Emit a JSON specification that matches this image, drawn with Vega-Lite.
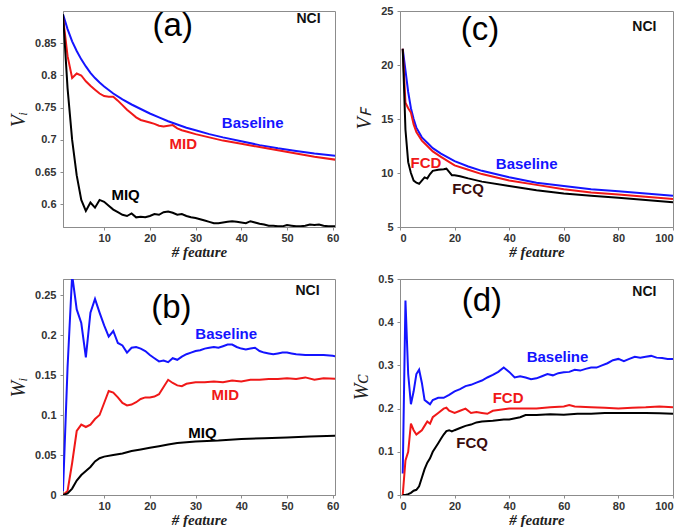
{
  "$schema": "https://vega.github.io/schema/vega-lite/v6.json",
  "background": "white",
  "padding": {"left": 8, "top": 4, "right": 2, "bottom": 2},
  "columns": 2,
  "spacing": {"row": 52, "column": 65},
  "bounds": "flush",
  "datasets": {
    "a": [
      {"feature":1,"value":0.895,"series":"Baseline"},{"feature":2,"value":0.872,"series":"Baseline"},{"feature":3,"value":0.853,"series":"Baseline"},{"feature":4,"value":0.838,"series":"Baseline"},{"feature":5,"value":0.825,"series":"Baseline"},{"feature":6,"value":0.814,"series":"Baseline"},{"feature":7,"value":0.804,"series":"Baseline"},{"feature":8,"value":0.796,"series":"Baseline"},{"feature":9,"value":0.789,"series":"Baseline"},{"feature":10,"value":0.783,"series":"Baseline"},{"feature":12,"value":0.772,"series":"Baseline"},{"feature":14,"value":0.763,"series":"Baseline"},{"feature":16,"value":0.755,"series":"Baseline"},{"feature":18,"value":0.748,"series":"Baseline"},{"feature":20,"value":0.741,"series":"Baseline"},{"feature":22,"value":0.735,"series":"Baseline"},{"feature":24,"value":0.729,"series":"Baseline"},{"feature":26,"value":0.724,"series":"Baseline"},{"feature":28,"value":0.719,"series":"Baseline"},{"feature":30,"value":0.715,"series":"Baseline"},{"feature":33,"value":0.709,"series":"Baseline"},{"feature":36,"value":0.704,"series":"Baseline"},{"feature":40,"value":0.698,"series":"Baseline"},{"feature":44,"value":0.692,"series":"Baseline"},{"feature":48,"value":0.687,"series":"Baseline"},{"feature":52,"value":0.683,"series":"Baseline"},{"feature":56,"value":0.679,"series":"Baseline"},{"feature":61,"value":0.675,"series":"Baseline"},
      {"feature":1,"value":0.89,"series":"MID"},{"feature":2,"value":0.83,"series":"MID"},{"feature":3,"value":0.796,"series":"MID"},{"feature":4,"value":0.803,"series":"MID"},{"feature":5,"value":0.8,"series":"MID"},{"feature":6,"value":0.791,"series":"MID"},{"feature":7,"value":0.784,"series":"MID"},{"feature":8,"value":0.778,"series":"MID"},{"feature":9,"value":0.772,"series":"MID"},{"feature":10,"value":0.768,"series":"MID"},{"feature":11,"value":0.767,"series":"MID"},{"feature":12,"value":0.767,"series":"MID"},{"feature":13,"value":0.761,"series":"MID"},{"feature":14,"value":0.754,"series":"MID"},{"feature":15,"value":0.747,"series":"MID"},{"feature":16,"value":0.741,"series":"MID"},{"feature":17,"value":0.735,"series":"MID"},{"feature":18,"value":0.731,"series":"MID"},{"feature":19,"value":0.729,"series":"MID"},{"feature":20,"value":0.727,"series":"MID"},{"feature":21,"value":0.725,"series":"MID"},{"feature":22,"value":0.722,"series":"MID"},{"feature":23,"value":0.721,"series":"MID"},{"feature":24,"value":0.722,"series":"MID"},{"feature":25,"value":0.723,"series":"MID"},{"feature":26,"value":0.718,"series":"MID"},{"feature":27,"value":0.715,"series":"MID"},{"feature":28,"value":0.713,"series":"MID"},{"feature":30,"value":0.709,"series":"MID"},{"feature":33,"value":0.704,"series":"MID"},{"feature":36,"value":0.699,"series":"MID"},{"feature":40,"value":0.694,"series":"MID"},{"feature":44,"value":0.689,"series":"MID"},{"feature":48,"value":0.684,"series":"MID"},{"feature":52,"value":0.679,"series":"MID"},{"feature":56,"value":0.674,"series":"MID"},{"feature":61,"value":0.669,"series":"MID"},
      {"feature":1,"value":0.895,"series":"MIQ"},{"feature":2,"value":0.78,"series":"MIQ"},{"feature":3,"value":0.7,"series":"MIQ"},{"feature":4,"value":0.645,"series":"MIQ"},{"feature":5,"value":0.607,"series":"MIQ"},{"feature":6,"value":0.59,"series":"MIQ"},{"feature":7,"value":0.603,"series":"MIQ"},{"feature":8,"value":0.595,"series":"MIQ"},{"feature":9,"value":0.607,"series":"MIQ"},{"feature":10,"value":0.604,"series":"MIQ"},{"feature":11,"value":0.598,"series":"MIQ"},{"feature":12,"value":0.592,"series":"MIQ"},{"feature":13,"value":0.588,"series":"MIQ"},{"feature":14,"value":0.584,"series":"MIQ"},{"feature":15,"value":0.582,"series":"MIQ"},{"feature":16,"value":0.586,"series":"MIQ"},{"feature":17,"value":0.58,"series":"MIQ"},{"feature":18,"value":0.581,"series":"MIQ"},{"feature":19,"value":0.58,"series":"MIQ"},{"feature":20,"value":0.582,"series":"MIQ"},{"feature":21,"value":0.585,"series":"MIQ"},{"feature":22,"value":0.584,"series":"MIQ"},{"feature":23,"value":0.588,"series":"MIQ"},{"feature":24,"value":0.589,"series":"MIQ"},{"feature":25,"value":0.587,"series":"MIQ"},{"feature":26,"value":0.584,"series":"MIQ"},{"feature":27,"value":0.585,"series":"MIQ"},{"feature":28,"value":0.582,"series":"MIQ"},{"feature":29,"value":0.58,"series":"MIQ"},{"feature":30,"value":0.579,"series":"MIQ"},{"feature":31,"value":0.577,"series":"MIQ"},{"feature":32,"value":0.575,"series":"MIQ"},{"feature":33,"value":0.573,"series":"MIQ"},{"feature":34,"value":0.571,"series":"MIQ"},{"feature":35,"value":0.571,"series":"MIQ"},{"feature":36,"value":0.572,"series":"MIQ"},{"feature":37,"value":0.573,"series":"MIQ"},{"feature":38,"value":0.574,"series":"MIQ"},{"feature":39,"value":0.573,"series":"MIQ"},{"feature":40,"value":0.572,"series":"MIQ"},{"feature":41,"value":0.571,"series":"MIQ"},{"feature":42,"value":0.574,"series":"MIQ"},{"feature":43,"value":0.572,"series":"MIQ"},{"feature":44,"value":0.57,"series":"MIQ"},{"feature":45,"value":0.569,"series":"MIQ"},{"feature":46,"value":0.567,"series":"MIQ"},{"feature":47,"value":0.567,"series":"MIQ"},{"feature":48,"value":0.566,"series":"MIQ"},{"feature":49,"value":0.566,"series":"MIQ"},{"feature":50,"value":0.568,"series":"MIQ"},{"feature":51,"value":0.567,"series":"MIQ"},{"feature":52,"value":0.566,"series":"MIQ"},{"feature":53,"value":0.566,"series":"MIQ"},{"feature":54,"value":0.567,"series":"MIQ"},{"feature":55,"value":0.569,"series":"MIQ"},{"feature":56,"value":0.568,"series":"MIQ"},{"feature":57,"value":0.569,"series":"MIQ"},{"feature":58,"value":0.567,"series":"MIQ"},{"feature":59,"value":0.566,"series":"MIQ"},{"feature":60,"value":0.566,"series":"MIQ"},{"feature":61,"value":0.566,"series":"MIQ"}
    ],
    "b": [
      {"feature":1,"value":0.005,"series":"Baseline"},{"feature":2,"value":0.16,"series":"Baseline"},{"feature":3,"value":0.275,"series":"Baseline"},{"feature":4,"value":0.232,"series":"Baseline"},{"feature":5,"value":0.215,"series":"Baseline"},{"feature":6,"value":0.172,"series":"Baseline"},{"feature":7,"value":0.228,"series":"Baseline"},{"feature":8,"value":0.245,"series":"Baseline"},{"feature":9,"value":0.228,"series":"Baseline"},{"feature":10,"value":0.212,"series":"Baseline"},{"feature":11,"value":0.198,"series":"Baseline"},{"feature":12,"value":0.205,"series":"Baseline"},{"feature":13,"value":0.19,"series":"Baseline"},{"feature":14,"value":0.187,"series":"Baseline"},{"feature":15,"value":0.178,"series":"Baseline"},{"feature":16,"value":0.184,"series":"Baseline"},{"feature":17,"value":0.185,"series":"Baseline"},{"feature":18,"value":0.183,"series":"Baseline"},{"feature":19,"value":0.18,"series":"Baseline"},{"feature":20,"value":0.175,"series":"Baseline"},{"feature":21,"value":0.171,"series":"Baseline"},{"feature":22,"value":0.167,"series":"Baseline"},{"feature":23,"value":0.168,"series":"Baseline"},{"feature":24,"value":0.166,"series":"Baseline"},{"feature":25,"value":0.171,"series":"Baseline"},{"feature":26,"value":0.169,"series":"Baseline"},{"feature":27,"value":0.173,"series":"Baseline"},{"feature":28,"value":0.176,"series":"Baseline"},{"feature":29,"value":0.178,"series":"Baseline"},{"feature":30,"value":0.18,"series":"Baseline"},{"feature":31,"value":0.181,"series":"Baseline"},{"feature":32,"value":0.183,"series":"Baseline"},{"feature":33,"value":0.184,"series":"Baseline"},{"feature":34,"value":0.185,"series":"Baseline"},{"feature":35,"value":0.184,"series":"Baseline"},{"feature":36,"value":0.186,"series":"Baseline"},{"feature":37,"value":0.188,"series":"Baseline"},{"feature":38,"value":0.188,"series":"Baseline"},{"feature":39,"value":0.185,"series":"Baseline"},{"feature":40,"value":0.183,"series":"Baseline"},{"feature":41,"value":0.182,"series":"Baseline"},{"feature":42,"value":0.183,"series":"Baseline"},{"feature":43,"value":0.184,"series":"Baseline"},{"feature":44,"value":0.18,"series":"Baseline"},{"feature":45,"value":0.178,"series":"Baseline"},{"feature":46,"value":0.177,"series":"Baseline"},{"feature":47,"value":0.176,"series":"Baseline"},{"feature":48,"value":0.177,"series":"Baseline"},{"feature":49,"value":0.178,"series":"Baseline"},{"feature":50,"value":0.178,"series":"Baseline"},{"feature":51,"value":0.177,"series":"Baseline"},{"feature":52,"value":0.176,"series":"Baseline"},{"feature":54,"value":0.175,"series":"Baseline"},{"feature":56,"value":0.175,"series":"Baseline"},{"feature":58,"value":0.175,"series":"Baseline"},{"feature":60,"value":0.174,"series":"Baseline"},{"feature":61,"value":0.173,"series":"Baseline"},
      {"feature":1,"value":0,"series":"MID"},{"feature":2,"value":0.005,"series":"MID"},{"feature":3,"value":0.04,"series":"MID"},{"feature":4,"value":0.08,"series":"MID"},{"feature":5,"value":0.088,"series":"MID"},{"feature":6,"value":0.085,"series":"MID"},{"feature":7,"value":0.088,"series":"MID"},{"feature":8,"value":0.095,"series":"MID"},{"feature":9,"value":0.1,"series":"MID"},{"feature":10,"value":0.115,"series":"MID"},{"feature":11,"value":0.13,"series":"MID"},{"feature":12,"value":0.128,"series":"MID"},{"feature":13,"value":0.122,"series":"MID"},{"feature":14,"value":0.115,"series":"MID"},{"feature":15,"value":0.112,"series":"MID"},{"feature":16,"value":0.113,"series":"MID"},{"feature":17,"value":0.116,"series":"MID"},{"feature":18,"value":0.12,"series":"MID"},{"feature":19,"value":0.122,"series":"MID"},{"feature":20,"value":0.122,"series":"MID"},{"feature":21,"value":0.123,"series":"MID"},{"feature":22,"value":0.126,"series":"MID"},{"feature":23,"value":0.135,"series":"MID"},{"feature":24,"value":0.144,"series":"MID"},{"feature":25,"value":0.14,"series":"MID"},{"feature":26,"value":0.137,"series":"MID"},{"feature":27,"value":0.136,"series":"MID"},{"feature":28,"value":0.139,"series":"MID"},{"feature":30,"value":0.141,"series":"MID"},{"feature":32,"value":0.141,"series":"MID"},{"feature":34,"value":0.142,"series":"MID"},{"feature":36,"value":0.141,"series":"MID"},{"feature":38,"value":0.143,"series":"MID"},{"feature":40,"value":0.142,"series":"MID"},{"feature":42,"value":0.144,"series":"MID"},{"feature":44,"value":0.144,"series":"MID"},{"feature":46,"value":0.145,"series":"MID"},{"feature":48,"value":0.145,"series":"MID"},{"feature":50,"value":0.146,"series":"MID"},{"feature":52,"value":0.145,"series":"MID"},{"feature":54,"value":0.147,"series":"MID"},{"feature":56,"value":0.144,"series":"MID"},{"feature":58,"value":0.146,"series":"MID"},{"feature":61,"value":0.145,"series":"MID"},
      {"feature":1,"value":0,"series":"MIQ"},{"feature":2,"value":0.002,"series":"MIQ"},{"feature":3,"value":0.008,"series":"MIQ"},{"feature":4,"value":0.018,"series":"MIQ"},{"feature":5,"value":0.025,"series":"MIQ"},{"feature":6,"value":0.03,"series":"MIQ"},{"feature":7,"value":0.035,"series":"MIQ"},{"feature":8,"value":0.042,"series":"MIQ"},{"feature":9,"value":0.046,"series":"MIQ"},{"feature":10,"value":0.048,"series":"MIQ"},{"feature":12,"value":0.05,"series":"MIQ"},{"feature":14,"value":0.052,"series":"MIQ"},{"feature":16,"value":0.055,"series":"MIQ"},{"feature":18,"value":0.057,"series":"MIQ"},{"feature":20,"value":0.059,"series":"MIQ"},{"feature":22,"value":0.061,"series":"MIQ"},{"feature":24,"value":0.063,"series":"MIQ"},{"feature":26,"value":0.065,"series":"MIQ"},{"feature":28,"value":0.066,"series":"MIQ"},{"feature":30,"value":0.067,"series":"MIQ"},{"feature":35,"value":0.068,"series":"MIQ"},{"feature":40,"value":0.07,"series":"MIQ"},{"feature":45,"value":0.071,"series":"MIQ"},{"feature":50,"value":0.072,"series":"MIQ"},{"feature":55,"value":0.073,"series":"MIQ"},{"feature":61,"value":0.074,"series":"MIQ"}
    ],
    "c": [
      {"feature":1,"value":21.5,"series":"Baseline"},{"feature":2,"value":19.5,"series":"Baseline"},{"feature":3,"value":17.5,"series":"Baseline"},{"feature":4,"value":16,"series":"Baseline"},{"feature":5,"value":15,"series":"Baseline"},{"feature":6,"value":14.2,"series":"Baseline"},{"feature":8,"value":13.3,"series":"Baseline"},{"feature":10,"value":12.8,"series":"Baseline"},{"feature":12,"value":12.3,"series":"Baseline"},{"feature":15,"value":11.8,"series":"Baseline"},{"feature":20,"value":11.1,"series":"Baseline"},{"feature":25,"value":10.6,"series":"Baseline"},{"feature":30,"value":10.2,"series":"Baseline"},{"feature":40,"value":9.6,"series":"Baseline"},{"feature":50,"value":9.1,"series":"Baseline"},{"feature":60,"value":8.8,"series":"Baseline"},{"feature":70,"value":8.5,"series":"Baseline"},{"feature":80,"value":8.3,"series":"Baseline"},{"feature":90,"value":8.1,"series":"Baseline"},{"feature":100,"value":7.9,"series":"Baseline"},
      {"feature":1,"value":21.5,"series":"FCD"},{"feature":2,"value":16.5,"series":"FCD"},{"feature":3,"value":16,"series":"FCD"},{"feature":4,"value":15.6,"series":"FCD"},{"feature":5,"value":14.5,"series":"FCD"},{"feature":6,"value":13.8,"series":"FCD"},{"feature":8,"value":13,"series":"FCD"},{"feature":10,"value":12.5,"series":"FCD"},{"feature":12,"value":12,"series":"FCD"},{"feature":15,"value":11.5,"series":"FCD"},{"feature":20,"value":10.7,"series":"FCD"},{"feature":25,"value":10.3,"series":"FCD"},{"feature":30,"value":9.9,"series":"FCD"},{"feature":40,"value":9.3,"series":"FCD"},{"feature":50,"value":8.9,"series":"FCD"},{"feature":60,"value":8.5,"series":"FCD"},{"feature":70,"value":8.2,"series":"FCD"},{"feature":80,"value":8,"series":"FCD"},{"feature":90,"value":7.8,"series":"FCD"},{"feature":100,"value":7.6,"series":"FCD"},
      {"feature":1,"value":21.5,"series":"FCQ"},{"feature":2,"value":14,"series":"FCQ"},{"feature":3,"value":11,"series":"FCQ"},{"feature":4,"value":10,"series":"FCQ"},{"feature":5,"value":9.3,"series":"FCQ"},{"feature":6,"value":9.1,"series":"FCQ"},{"feature":7,"value":9,"series":"FCQ"},{"feature":8,"value":9.3,"series":"FCQ"},{"feature":9,"value":9.6,"series":"FCQ"},{"feature":10,"value":9.5,"series":"FCQ"},{"feature":11,"value":9.9,"series":"FCQ"},{"feature":12,"value":10.2,"series":"FCQ"},{"feature":14,"value":10.3,"series":"FCQ"},{"feature":16,"value":10.35,"series":"FCQ"},{"feature":17,"value":10.4,"series":"FCQ"},{"feature":18,"value":10.1,"series":"FCQ"},{"feature":19,"value":9.8,"series":"FCQ"},{"feature":20,"value":9.8,"series":"FCQ"},{"feature":22,"value":9.7,"series":"FCQ"},{"feature":25,"value":9.5,"series":"FCQ"},{"feature":30,"value":9.2,"series":"FCQ"},{"feature":40,"value":8.8,"series":"FCQ"},{"feature":50,"value":8.4,"series":"FCQ"},{"feature":60,"value":8.1,"series":"FCQ"},{"feature":70,"value":7.9,"series":"FCQ"},{"feature":80,"value":7.7,"series":"FCQ"},{"feature":90,"value":7.5,"series":"FCQ"},{"feature":100,"value":7.3,"series":"FCQ"}
    ],
    "d": [
      {"feature":1,"value":0.05,"series":"Baseline"},{"feature":2,"value":0.45,"series":"Baseline"},{"feature":3,"value":0.28,"series":"Baseline"},{"feature":4,"value":0.21,"series":"Baseline"},{"feature":5,"value":0.24,"series":"Baseline"},{"feature":6,"value":0.28,"series":"Baseline"},{"feature":7,"value":0.29,"series":"Baseline"},{"feature":8,"value":0.26,"series":"Baseline"},{"feature":9,"value":0.22,"series":"Baseline"},{"feature":10,"value":0.215,"series":"Baseline"},{"feature":11,"value":0.21,"series":"Baseline"},{"feature":12,"value":0.22,"series":"Baseline"},{"feature":14,"value":0.225,"series":"Baseline"},{"feature":16,"value":0.225,"series":"Baseline"},{"feature":18,"value":0.232,"series":"Baseline"},{"feature":20,"value":0.24,"series":"Baseline"},{"feature":22,"value":0.245,"series":"Baseline"},{"feature":24,"value":0.252,"series":"Baseline"},{"feature":26,"value":0.255,"series":"Baseline"},{"feature":28,"value":0.26,"series":"Baseline"},{"feature":30,"value":0.265,"series":"Baseline"},{"feature":32,"value":0.272,"series":"Baseline"},{"feature":34,"value":0.278,"series":"Baseline"},{"feature":36,"value":0.285,"series":"Baseline"},{"feature":38,"value":0.295,"series":"Baseline"},{"feature":40,"value":0.285,"series":"Baseline"},{"feature":42,"value":0.272,"series":"Baseline"},{"feature":44,"value":0.275,"series":"Baseline"},{"feature":46,"value":0.272,"series":"Baseline"},{"feature":48,"value":0.268,"series":"Baseline"},{"feature":50,"value":0.27,"series":"Baseline"},{"feature":52,"value":0.275,"series":"Baseline"},{"feature":54,"value":0.28,"series":"Baseline"},{"feature":56,"value":0.277,"series":"Baseline"},{"feature":58,"value":0.282,"series":"Baseline"},{"feature":60,"value":0.284,"series":"Baseline"},{"feature":62,"value":0.285,"series":"Baseline"},{"feature":64,"value":0.29,"series":"Baseline"},{"feature":66,"value":0.288,"series":"Baseline"},{"feature":68,"value":0.292,"series":"Baseline"},{"feature":70,"value":0.295,"series":"Baseline"},{"feature":72,"value":0.295,"series":"Baseline"},{"feature":74,"value":0.3,"series":"Baseline"},{"feature":76,"value":0.305,"series":"Baseline"},{"feature":78,"value":0.312,"series":"Baseline"},{"feature":80,"value":0.315,"series":"Baseline"},{"feature":82,"value":0.31,"series":"Baseline"},{"feature":84,"value":0.315,"series":"Baseline"},{"feature":86,"value":0.32,"series":"Baseline"},{"feature":88,"value":0.318,"series":"Baseline"},{"feature":90,"value":0.32,"series":"Baseline"},{"feature":92,"value":0.322,"series":"Baseline"},{"feature":94,"value":0.318,"series":"Baseline"},{"feature":96,"value":0.317,"series":"Baseline"},{"feature":98,"value":0.315,"series":"Baseline"},{"feature":100,"value":0.315,"series":"Baseline"},
      {"feature":1,"value":0,"series":"FCD"},{"feature":2,"value":0.08,"series":"FCD"},{"feature":3,"value":0.1,"series":"FCD"},{"feature":4,"value":0.165,"series":"FCD"},{"feature":5,"value":0.15,"series":"FCD"},{"feature":6,"value":0.14,"series":"FCD"},{"feature":7,"value":0.145,"series":"FCD"},{"feature":8,"value":0.15,"series":"FCD"},{"feature":9,"value":0.16,"series":"FCD"},{"feature":10,"value":0.17,"series":"FCD"},{"feature":11,"value":0.165,"series":"FCD"},{"feature":12,"value":0.18,"series":"FCD"},{"feature":14,"value":0.19,"series":"FCD"},{"feature":16,"value":0.2,"series":"FCD"},{"feature":17,"value":0.202,"series":"FCD"},{"feature":18,"value":0.195,"series":"FCD"},{"feature":20,"value":0.19,"series":"FCD"},{"feature":22,"value":0.195,"series":"FCD"},{"feature":24,"value":0.2,"series":"FCD"},{"feature":26,"value":0.19,"series":"FCD"},{"feature":28,"value":0.192,"series":"FCD"},{"feature":30,"value":0.19,"series":"FCD"},{"feature":32,"value":0.188,"series":"FCD"},{"feature":34,"value":0.195,"series":"FCD"},{"feature":36,"value":0.197,"series":"FCD"},{"feature":40,"value":0.2,"series":"FCD"},{"feature":45,"value":0.2,"series":"FCD"},{"feature":50,"value":0.2,"series":"FCD"},{"feature":55,"value":0.203,"series":"FCD"},{"feature":60,"value":0.205,"series":"FCD"},{"feature":62,"value":0.208,"series":"FCD"},{"feature":64,"value":0.205,"series":"FCD"},{"feature":70,"value":0.203,"series":"FCD"},{"feature":75,"value":0.202,"series":"FCD"},{"feature":80,"value":0.2,"series":"FCD"},{"feature":85,"value":0.202,"series":"FCD"},{"feature":90,"value":0.203,"series":"FCD"},{"feature":95,"value":0.205,"series":"FCD"},{"feature":100,"value":0.203,"series":"FCD"},
      {"feature":1,"value":0,"series":"FCQ"},{"feature":2,"value":0,"series":"FCQ"},{"feature":3,"value":0.002,"series":"FCQ"},{"feature":4,"value":0.005,"series":"FCQ"},{"feature":5,"value":0.01,"series":"FCQ"},{"feature":6,"value":0.012,"series":"FCQ"},{"feature":7,"value":0.02,"series":"FCQ"},{"feature":8,"value":0.04,"series":"FCQ"},{"feature":9,"value":0.06,"series":"FCQ"},{"feature":10,"value":0.075,"series":"FCQ"},{"feature":11,"value":0.085,"series":"FCQ"},{"feature":12,"value":0.1,"series":"FCQ"},{"feature":13,"value":0.11,"series":"FCQ"},{"feature":14,"value":0.12,"series":"FCQ"},{"feature":15,"value":0.13,"series":"FCQ"},{"feature":16,"value":0.14,"series":"FCQ"},{"feature":17,"value":0.148,"series":"FCQ"},{"feature":18,"value":0.15,"series":"FCQ"},{"feature":19,"value":0.147,"series":"FCQ"},{"feature":20,"value":0.15,"series":"FCQ"},{"feature":22,"value":0.155,"series":"FCQ"},{"feature":24,"value":0.16,"series":"FCQ"},{"feature":26,"value":0.163,"series":"FCQ"},{"feature":28,"value":0.168,"series":"FCQ"},{"feature":30,"value":0.17,"series":"FCQ"},{"feature":34,"value":0.172,"series":"FCQ"},{"feature":38,"value":0.175,"series":"FCQ"},{"feature":40,"value":0.175,"series":"FCQ"},{"feature":44,"value":0.18,"series":"FCQ"},{"feature":46,"value":0.185,"series":"FCQ"},{"feature":50,"value":0.185,"series":"FCQ"},{"feature":55,"value":0.187,"series":"FCQ"},{"feature":60,"value":0.186,"series":"FCQ"},{"feature":65,"value":0.188,"series":"FCQ"},{"feature":70,"value":0.188,"series":"FCQ"},{"feature":75,"value":0.19,"series":"FCQ"},{"feature":80,"value":0.19,"series":"FCQ"},{"feature":85,"value":0.19,"series":"FCQ"},{"feature":90,"value":0.19,"series":"FCQ"},{"feature":95,"value":0.189,"series":"FCQ"},{"feature":100,"value":0.188,"series":"FCQ"}
    ],
    "la": [
      {"feature":25,"value":0.876,"label":"(a)","kind":"panel"},{"feature":54.7,"value":0.887,"label":"NCI","kind":"nci"},
      {"feature":42.5,"value":0.727,"label":"Baseline","kind":"Baseline"},{"feature":27.3,"value":0.693,"label":"MID","kind":"MID"},{"feature":14.7,"value":0.615,"label":"MIQ","kind":"MIQ"}
    ],
    "lb": [
      {"feature":24.7,"value":0.234,"label":"(b)","kind":"panel"},{"feature":54.5,"value":0.255,"label":"NCI","kind":"nci"},
      {"feature":36.7,"value":0.201,"label":"Baseline","kind":"Baseline"},{"feature":36.5,"value":0.125,"label":"MID","kind":"MID"},{"feature":31.5,"value":0.077,"label":"MIQ","kind":"MIQ"}
    ],
    "lc": [
      {"feature":29.3,"value":23.2,"label":"(c)","kind":"panel"},{"feature":89.5,"value":23.5,"label":"NCI","kind":"nci"},
      {"feature":46.4,"value":10.8,"label":"Baseline","kind":"Baseline"},{"feature":9.5,"value":10.9,"label":"FCD","kind":"FCD"},{"feature":24.9,"value":8.5,"label":"FCQ","kind":"FCQ"}
    ],
    "ld": [
      {"feature":30,"value":0.449,"label":"(d)","kind":"panel"},{"feature":89.5,"value":0.47,"label":"NCI","kind":"nci"},
      {"feature":57.7,"value":0.319,"label":"Baseline","kind":"Baseline"},{"feature":39.6,"value":0.225,"label":"FCD","kind":"FCD"},{"feature":26.4,"value":0.12,"label":"FCQ","kind":"FCQ"}
    ]
  },
  "config": {
    "view": {"stroke": "#8c8c8c", "strokeWidth": 1},
    "axis": {
      "grid": false,
      "domainColor": "#8c8c8c",
      "tickColor": "#8c8c8c",
      "tickSize": 3,
      "labelFont": "Liberation Sans",
      "labelFontWeight": "bold",
      "labelFontSize": 11,
      "labelColor": "#333333",
      "titleColor": "#222222"
    },
    "axisX": {"titleFont": "Liberation Serif", "titleFontStyle": "italic", "titleFontWeight": "bold", "titleFontSize": 15, "titlePadding": 1, "labelPadding": 2},
    "axisY": {"titleFont": "Liberation Serif", "titleFontStyle": "italic", "titleFontWeight": "normal", "titleFontSize": 20, "titlePadding": 6, "labelPadding": 4},
    "text": {"font": "Liberation Sans"}
  },
  "concat": [
    {
      "width": 272, "height": 216,
      "layer": [
        {"data": {"name": "a"}, "mark": {"type": "line", "strokeWidth": 2, "clip": true},
         "encoding": {
           "x": {"field": "feature", "type": "quantitative", "scale": {"domain": [1, 60.5], "nice": false}, "axis": {"values": [10,20,30,40,50,60], "title": "# feature"}},
           "y": {"field": "value", "type": "quantitative", "scale": {"domain": [0.565, 0.9], "nice": false}, "axis": {"values": [0.6,0.65,0.7,0.75,0.8,0.85], "format": "~g", "title": "Vᵢ"}},
           "color": {"field": "series", "type": "nominal", "scale": {"domain": ["Baseline","MID","MIQ"], "range": ["#1414ff","#f01818","#000000"]}, "legend": null}
         }},
        {"data": {"name": "la"}, "transform": [{"filter": "datum.kind === 'panel'"}], "mark": {"type": "text", "fontSize": 33, "fontWeight": "normal", "color": "#000000"},
         "encoding": {"x": {"field": "feature", "type": "quantitative"}, "y": {"field": "value", "type": "quantitative"}, "text": {"field": "label"}}},
        {"data": {"name": "la"}, "transform": [{"filter": "datum.kind === 'nci'"}], "mark": {"type": "text", "fontSize": 14, "fontWeight": "bold", "color": "#111111"},
         "encoding": {"x": {"field": "feature", "type": "quantitative"}, "y": {"field": "value", "type": "quantitative"}, "text": {"field": "label"}}},
        {"data": {"name": "la"}, "transform": [{"filter": "datum.kind !== 'panel' && datum.kind !== 'nci'"}], "mark": {"type": "text", "fontSize": 15, "fontWeight": "bold"},
         "encoding": {"x": {"field": "feature", "type": "quantitative"}, "y": {"field": "value", "type": "quantitative"}, "text": {"field": "label"},
           "color": {"field": "kind", "type": "nominal", "scale": {"domain": ["Baseline","MID","MIQ","FCD","FCQ"], "range": ["#1414ff","#f01818","#000000","#f01818","#3a0c0c"]}, "legend": null}}}
      ],
      "resolve": {"scale": {"color": "independent"}}
    },
    {
      "width": 273, "height": 216,
      "layer": [
        {"data": {"name": "c"}, "mark": {"type": "line", "strokeWidth": 2, "clip": true},
         "encoding": {
           "x": {"field": "feature", "type": "quantitative", "scale": {"domain": [0, 100], "nice": false}, "axis": {"values": [0,20,40,60,80,100], "title": "# feature"}},
           "y": {"field": "value", "type": "quantitative", "scale": {"domain": [5, 25], "nice": false}, "axis": {"values": [5,10,15,20,25], "format": "~g", "title": "Vꜰ"}},
           "color": {"field": "series", "type": "nominal", "scale": {"domain": ["Baseline","FCD","FCQ"], "range": ["#1414ff","#f01818","#000000"]}, "legend": null}
         }},
        {"data": {"name": "lc"}, "transform": [{"filter": "datum.kind === 'panel'"}], "mark": {"type": "text", "fontSize": 33, "fontWeight": "normal", "color": "#000000"},
         "encoding": {"x": {"field": "feature", "type": "quantitative"}, "y": {"field": "value", "type": "quantitative"}, "text": {"field": "label"}}},
        {"data": {"name": "lc"}, "transform": [{"filter": "datum.kind === 'nci'"}], "mark": {"type": "text", "fontSize": 14, "fontWeight": "bold", "color": "#111111"},
         "encoding": {"x": {"field": "feature", "type": "quantitative"}, "y": {"field": "value", "type": "quantitative"}, "text": {"field": "label"}}},
        {"data": {"name": "lc"}, "transform": [{"filter": "datum.kind !== 'panel' && datum.kind !== 'nci'"}], "mark": {"type": "text", "fontSize": 15, "fontWeight": "bold"},
         "encoding": {"x": {"field": "feature", "type": "quantitative"}, "y": {"field": "value", "type": "quantitative"}, "text": {"field": "label"},
           "color": {"field": "kind", "type": "nominal", "scale": {"domain": ["Baseline","MID","MIQ","FCD","FCQ"], "range": ["#1414ff","#f01818","#000000","#f01818","#3a0c0c"]}, "legend": null}}}
      ],
      "resolve": {"scale": {"color": "independent"}}
    },
    {
      "width": 272, "height": 216,
      "layer": [
        {"data": {"name": "b"}, "mark": {"type": "line", "strokeWidth": 2, "clip": true},
         "encoding": {
           "x": {"field": "feature", "type": "quantitative", "scale": {"domain": [1, 60.5], "nice": false}, "axis": {"values": [10,20,30,40,50,60], "title": "# feature"}},
           "y": {"field": "value", "type": "quantitative", "scale": {"domain": [0, 0.27], "nice": false}, "axis": {"values": [0,0.05,0.1,0.15,0.2,0.25], "format": "~g", "title": "Wᵢ"}},
           "color": {"field": "series", "type": "nominal", "scale": {"domain": ["Baseline","MID","MIQ"], "range": ["#1414ff","#f01818","#000000"]}, "legend": null}
         }},
        {"data": {"name": "lb"}, "transform": [{"filter": "datum.kind === 'panel'"}], "mark": {"type": "text", "fontSize": 33, "fontWeight": "normal", "color": "#000000"},
         "encoding": {"x": {"field": "feature", "type": "quantitative"}, "y": {"field": "value", "type": "quantitative"}, "text": {"field": "label"}}},
        {"data": {"name": "lb"}, "transform": [{"filter": "datum.kind === 'nci'"}], "mark": {"type": "text", "fontSize": 14, "fontWeight": "bold", "color": "#111111"},
         "encoding": {"x": {"field": "feature", "type": "quantitative"}, "y": {"field": "value", "type": "quantitative"}, "text": {"field": "label"}}},
        {"data": {"name": "lb"}, "transform": [{"filter": "datum.kind !== 'panel' && datum.kind !== 'nci'"}], "mark": {"type": "text", "fontSize": 15, "fontWeight": "bold"},
         "encoding": {"x": {"field": "feature", "type": "quantitative"}, "y": {"field": "value", "type": "quantitative"}, "text": {"field": "label"},
           "color": {"field": "kind", "type": "nominal", "scale": {"domain": ["Baseline","MID","MIQ","FCD","FCQ"], "range": ["#1414ff","#f01818","#000000","#f01818","#3a0c0c"]}, "legend": null}}}
      ],
      "resolve": {"scale": {"color": "independent"}}
    },
    {
      "width": 273, "height": 216,
      "layer": [
        {"data": {"name": "d"}, "mark": {"type": "line", "strokeWidth": 2, "clip": true},
         "encoding": {
           "x": {"field": "feature", "type": "quantitative", "scale": {"domain": [0, 100], "nice": false}, "axis": {"values": [0,20,40,60,80,100], "title": "# feature"}},
           "y": {"field": "value", "type": "quantitative", "scale": {"domain": [0, 0.5], "nice": false}, "axis": {"values": [0,0.1,0.2,0.3,0.4,0.5], "format": "~g", "title": "Wᴄ"}},
           "color": {"field": "series", "type": "nominal", "scale": {"domain": ["Baseline","FCD","FCQ"], "range": ["#1414ff","#f01818","#000000"]}, "legend": null}
         }},
        {"data": {"name": "ld"}, "transform": [{"filter": "datum.kind === 'panel'"}], "mark": {"type": "text", "fontSize": 33, "fontWeight": "normal", "color": "#000000"},
         "encoding": {"x": {"field": "feature", "type": "quantitative"}, "y": {"field": "value", "type": "quantitative"}, "text": {"field": "label"}}},
        {"data": {"name": "ld"}, "transform": [{"filter": "datum.kind === 'nci'"}], "mark": {"type": "text", "fontSize": 14, "fontWeight": "bold", "color": "#111111"},
         "encoding": {"x": {"field": "feature", "type": "quantitative"}, "y": {"field": "value", "type": "quantitative"}, "text": {"field": "label"}}},
        {"data": {"name": "ld"}, "transform": [{"filter": "datum.kind !== 'panel' && datum.kind !== 'nci'"}], "mark": {"type": "text", "fontSize": 15, "fontWeight": "bold"},
         "encoding": {"x": {"field": "feature", "type": "quantitative"}, "y": {"field": "value", "type": "quantitative"}, "text": {"field": "label"},
           "color": {"field": "kind", "type": "nominal", "scale": {"domain": ["Baseline","MID","MIQ","FCD","FCQ"], "range": ["#1414ff","#f01818","#000000","#f01818","#3a0c0c"]}, "legend": null}}}
      ],
      "resolve": {"scale": {"color": "independent"}}
    }
  ]
}
